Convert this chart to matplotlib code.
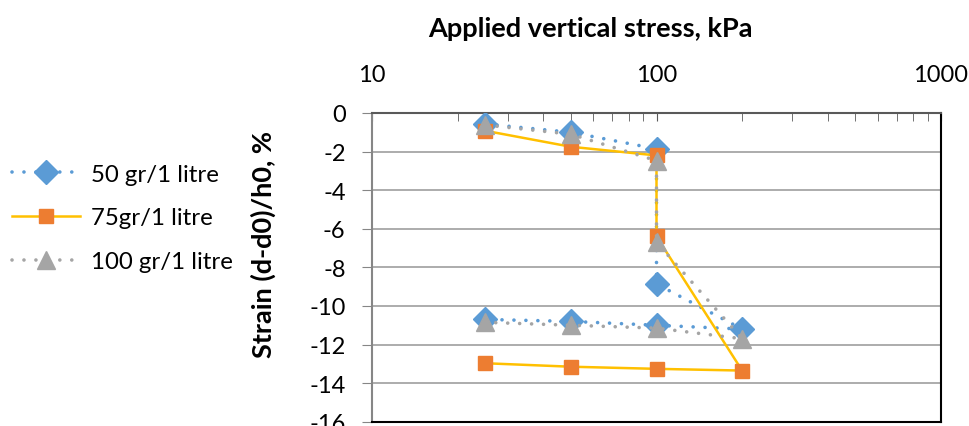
import numpy as np
import matplotlib.pyplot as plt
from matplotlib.ticker import LogLocator, FixedLocator, NullFormatter

plt.rcParams['font.family'] = ['Lato', 'DejaVu Sans']

# loading / unloading path (kPa) and measured strain (%)
stress = [25, 50, 100, 100, 200, 100, 50, 25]
strain_50 = [-0.57, -1.0, -1.86, -8.86, -11.2, -11.0, -10.8, -10.7]
strain_75 = [-0.92, -1.75, -2.2, -6.4, -13.35, -13.26, -13.15, -12.97]
strain_100 = [-0.62, -1.1, -2.47, -6.7, -11.7, -11.15, -11.0, -10.85]
labels = ['50 gr/1 litre', '75gr/1 litre', '100 gr/1 litre']
yticks = [0, -2, -4, -6, -8, -10, -12, -14, -16]
xticks = [10, 100, 1000]

fs_tick = 17
fs_lab = 19.5
fs_leg = 17.3
fig = plt.figure(figsize=(9.69, 4.27), dpi=100)
ax = fig.add_axes([372/969, 1 - 422.7/427, (941 - 372)/969, (422.7 - 114)/427])

dots = (0, (0.01, 3.3))
ax.plot(stress, strain_50, color='#5B9BD5', lw=2.6, ls=dots, dash_capstyle='round',
        marker='D', ms=12.5, mfc='#5B9BD5', mec='#5B9BD5', label=labels[0], zorder=3)
ax.plot(stress, strain_75, color='#FFC000', lw=1.8, ls='-',
        marker='s', ms=10.5, mfc='#ED7D31', mec='#ED7D31', label=labels[1], zorder=4)
ax.plot(stress, strain_100, color='#A5A5A5', lw=2.6, ls=dots, dash_capstyle='round',
        marker='^', ms=13.5, mfc='#A5A5A5', mec='#A5A5A5', label=labels[2], zorder=5)

ax.set_xscale('log')
ax.set_xlim(10, 1000)
ax.set_ylim(-16, 0)
ax.xaxis.tick_top()
ax.xaxis.set_major_locator(FixedLocator(xticks))
ax.set_xticklabels([str(t) for t in xticks])
ax.xaxis.set_minor_locator(LogLocator(base=10, subs=np.arange(2, 10)))
ax.xaxis.set_minor_formatter(NullFormatter())
ax.tick_params(axis='x', which='both', direction='in', length=6, color='#595959',
               labelsize=fs_tick, pad=20)
ax.set_yticks(yticks)
ax.set_yticklabels([str(t) for t in yticks])
ax.tick_params(axis='y', direction='out', length=7, color='#868686', labelsize=fs_tick, pad=12)

ax.yaxis.grid(True, color='#A6A6A6', lw=1.3)
ax.set_axisbelow(True)
ax.spines['top'].set_color('#595959')
ax.spines['left'].set_color('#868686')
ax.spines['bottom'].set_color('black')
ax.spines['right'].set_color('black')
for s in ax.spines.values():
    s.set_linewidth(1.5)

fig.text(590/969, 1 - 29/427, 'Applied vertical stress, kPa', fontsize=fs_lab,
         fontweight='bold', ha='center', va='center')
fig.text(263/969, 1 - 245/427, 'Strain (d-d0)/h0, %', fontsize=fs_lab,
         fontweight='bold', rotation=90, ha='center', va='center')

fig.legend(loc='center left', bbox_to_anchor=(12/969, 1 - 219/427), frameon=False,
           fontsize=fs_leg, handlelength=2.85, handletextpad=0.42, labelspacing=0.95,
           borderpad=0, borderaxespad=0, numpoints=1)

fig.savefig('out.png', dpi=100)
